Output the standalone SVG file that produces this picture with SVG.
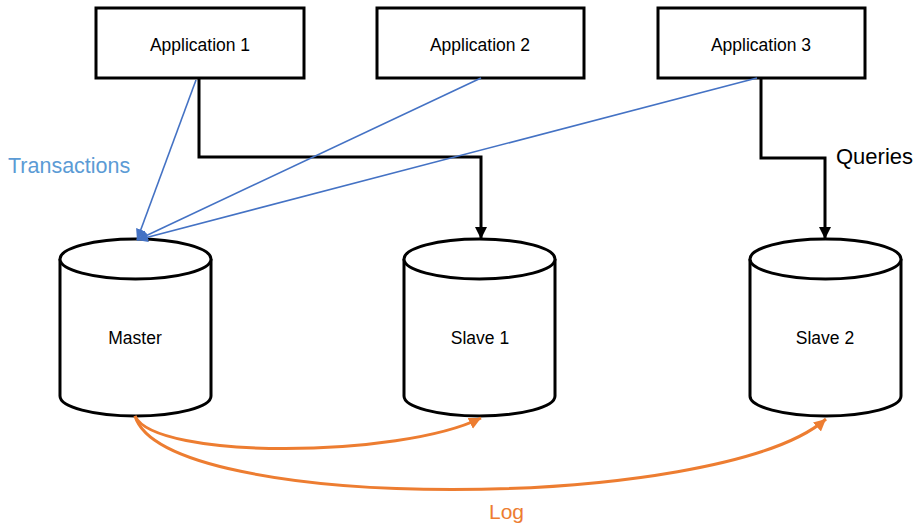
<svg xmlns="http://www.w3.org/2000/svg" width="922" height="524" viewBox="0 0 922 524">
<style>
.box{fill:#fff;stroke:#000;stroke-width:3}
.cyl{fill:#fff;stroke:#000;stroke-width:3}
.lbl{font-family:"Liberation Sans",Arial,sans-serif;font-size:17.5px;fill:#000;text-anchor:middle}
.blk{fill:none;stroke:#000;stroke-width:3}
.blu{fill:none;stroke:#4472C4;stroke-width:1.6}
.org{fill:none;stroke:#ED7D31;stroke-width:3}
</style>
<defs>
<marker id="ab" markerUnits="userSpaceOnUse" markerWidth="14" markerHeight="14" refX="12" refY="6" orient="auto"><path d="M0,0 L12,6 L0,12 Z" fill="#000"/></marker>
<marker id="au" markerUnits="userSpaceOnUse" markerWidth="14" markerHeight="14" refX="11" refY="5" orient="auto"><path d="M0,0 L11,5 L0,10 Z" fill="#4472C4"/></marker>
<marker id="ao" markerUnits="userSpaceOnUse" markerWidth="16" markerHeight="16" refX="12" refY="6" orient="auto"><path d="M0,0 L12,6 L0,12 Z" fill="#ED7D31"/></marker>
</defs>
<g id="app1"><rect class="box" x="96" y="8" width="208" height="70"/><text class="lbl" x="200" y="51">Application 1</text></g>
<g id="app2"><rect class="box" x="377" y="8" width="207" height="70"/><text class="lbl" x="480" y="51">Application 2</text></g>
<g id="app3"><rect class="box" x="658" y="8" width="207" height="70"/><text class="lbl" x="761" y="51">Application 3</text></g>
<g id="master"><path class="cyl" d="M60,259 A75.5,20 0 0 1 211,259 L211,396 A75.5,20 0 0 1 60,396 Z"/><path class="cyl" d="M60,259 A75.5,20 0 0 0 211,259"/><text class="lbl" x="135" y="344">Master</text></g>
<g id="slave1"><path class="cyl" d="M404,259 A75.5,20 0 0 1 555,259 L555,396 A75.5,20 0 0 1 404,396 Z"/><path class="cyl" d="M404,259 A75.5,20 0 0 0 555,259"/><text class="lbl" x="480" y="344">Slave 1</text></g>
<g id="slave2"><path class="cyl" d="M750,259 A75.5,20 0 0 1 901,259 L901,396 A75.5,20 0 0 1 750,396 Z"/><path class="cyl" d="M750,259 A75.5,20 0 0 0 901,259"/><text class="lbl" x="825" y="344">Slave 2</text></g>
<g id="connectors">
<path class="blk" d="M199,78 L199,157 L481,157 L481,239" marker-end="url(#ab)"/>
<path class="blk" d="M761,78 L761,158 L825,158 L825,239" marker-end="url(#ab)"/>
<path class="blu" d="M196,80 L137,240" marker-end="url(#au)"/>
<path class="blu" d="M481,78 L137,240" marker-end="url(#au)"/>
<path class="blu" d="M757,78 L137,240" marker-end="url(#au)"/>
<path class="org" d="M135,416 C155,460 400,458 481,418" marker-end="url(#ao)"/>
<path class="org" d="M135,416 C165,515 720,512 826,419" marker-end="url(#ao)"/>
</g>
<text x="8" y="173" style="font-family:'Liberation Sans',Arial,sans-serif;font-size:21.5px;fill:#5B9BD5">Transactions</text>
<text x="836" y="164" style="font-family:'Liberation Sans',Arial,sans-serif;font-size:22px;fill:#000">Queries</text>
<text x="489" y="519" style="font-family:'Liberation Sans',Arial,sans-serif;font-size:21px;fill:#ED7D31">Log</text>
</svg>
